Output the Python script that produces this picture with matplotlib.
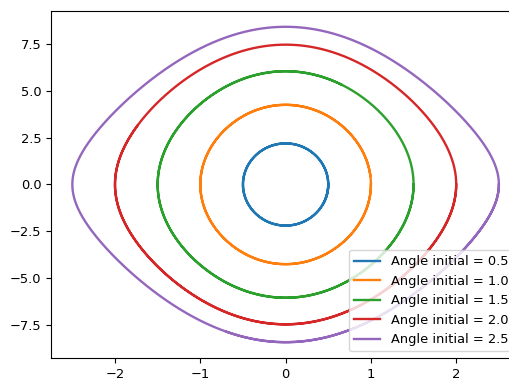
import numpy as np
import matplotlib.pyplot as plt

# initial angles (rad) of each pendulum run, released from rest
angles = [0.5, 1.0, 1.5, 2.0, 2.5]
labels = ["Angle initial = 0.5", "Angle initial = 1.0", "Angle initial = 1.5",
          "Angle initial = 2.0", "Angle initial = 2.5"]
g_over_l = 19.6  # g = 9.8, L = 0.5
t_end = 3.0
dt = 0.001


def deriv(state):
    theta, omega = state
    return np.array([omega, -g_over_l * np.sin(theta)])


def simulate(theta0):
    # RK4 integration of the pendulum, returns (theta, omega) trajectory
    n = int(t_end / dt)
    out = np.zeros((n, 2))
    s = np.array([theta0, 0.0])
    for i in range(n):
        out[i] = s
        k1 = deriv(s)
        k2 = deriv(s + dt / 2 * k1)
        k3 = deriv(s + dt / 2 * k2)
        k4 = deriv(s + dt * k3)
        s = s + dt / 6 * (k1 + 2 * k2 + 2 * k3 + k4)
    return out


fig = plt.figure(figsize=(5.1, 3.8), dpi=100)
ax = fig.add_axes([0.1, 0.058, 0.92, 0.913])
for a, lab in zip(angles, labels):
    traj = simulate(a)
    ax.plot(traj[:, 0], traj[:, 1], label=lab, linewidth=1.7)

ax.tick_params(labelsize=9.4)
ax.legend(loc="lower right", fontsize=9.4)
fig.savefig("out.png", dpi=100)
